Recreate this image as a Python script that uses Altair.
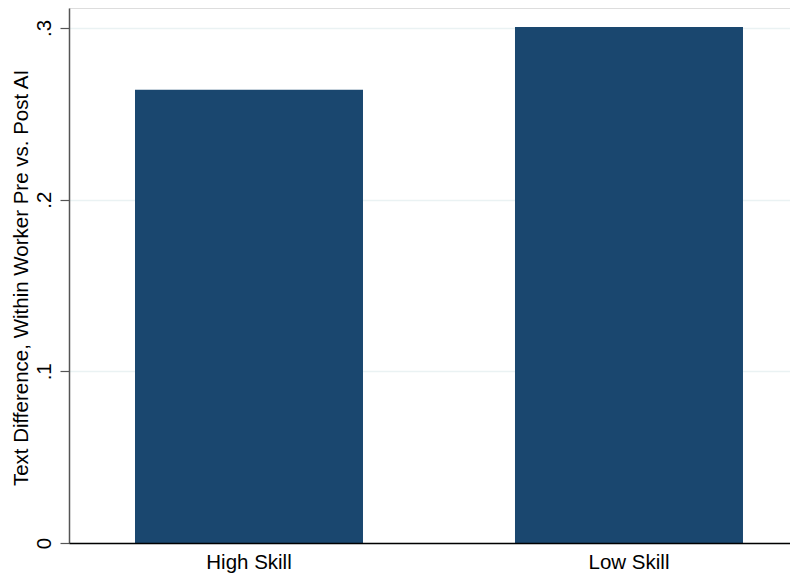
import altair as alt
import pandas as pd

groups = ["High Skill", "Low Skill"]
values = [0.264, 0.3006]
y_ticks = [0, 0.1, 0.2, 0.3]
y_title = "Text Difference, Within Worker Pre vs. Post AI"

df = pd.DataFrame({"group": groups, "value": values})

W, H = 721, 535
FONT = "Liberation Sans"
FS = 20.5

chart = alt.Chart(df).mark_bar(color="#1a476f").encode(
    x=alt.X(
        "group:N",
        sort=groups,
        title=None,
        scale=alt.Scale(paddingInner=0.4, paddingOuter=0.1487, align=0.584),
        axis=alt.Axis(
            labelAngle=0, ticks=False, tickSize=0, labelPadding=25,
            labelBaseline="alphabetic", labelFontSize=FS, labelFont=FONT,
            labelColor="black", domainColor="black", domainWidth=1.3,
            zindex=1, grid=False,
        ),
    ),
    y=alt.Y(
        "value:Q",
        scale=alt.Scale(domain=[0, 0.3116], nice=False, zero=True),
        axis=alt.Axis(
            values=y_ticks,
            title=y_title,
            labelExpr="datum.value == 0 ? '0' : replace(format(datum.value, '.1f'), '0.', '.')",
            labelAngle=270, labelAlign="center", labelBaseline="alphabetic",
            labelFontSize=FS, labelFont=FONT, labelColor="black",
            tickSize=9, labelPadding=10, tickColor="#555555", tickWidth=1.2,
            domainColor="#555555", domainWidth=1.5,
            grid=True, gridColor="#eaf2f3", gridWidth=1.5,
            titleAngle=270, titleX=-42, titleY=H / 2 + 2, titleAlign="center",
            titleBaseline="alphabetic", titleFontWeight="normal",
            titleFontSize=FS, titleFont=FONT, titleColor="black",
        ),
    ),
).properties(
    width=W,
    height=H,
    padding={"left": 61, "top": 0, "right": 0, "bottom": 32},
    autosize=alt.AutoSizeParams(type="none"),
).configure_view(stroke=None).configure(background="white")

chart.save("out.html", embed_options={"renderer": "svg", "actions": False})
